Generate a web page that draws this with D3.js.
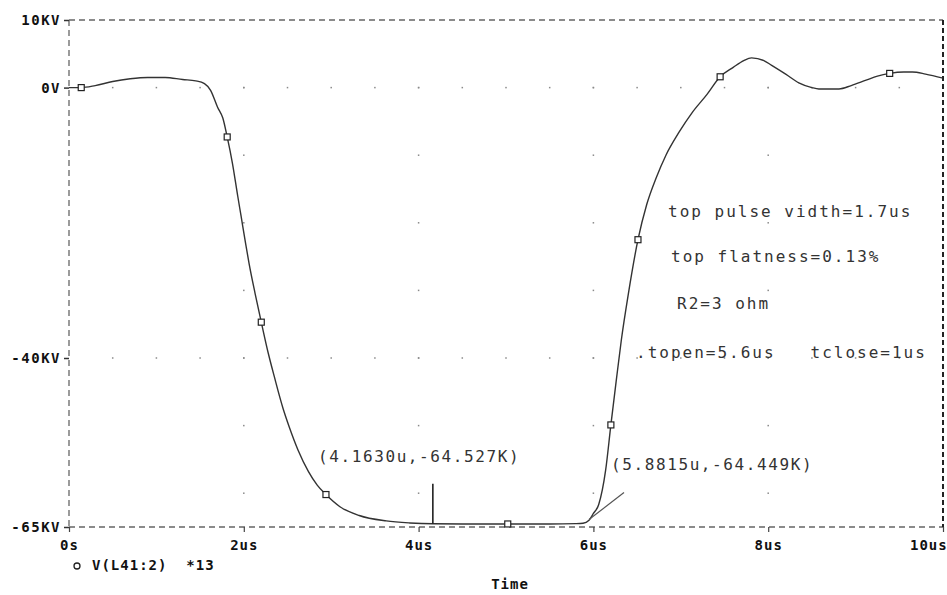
<!DOCTYPE html>
<html>
<head>
<meta charset="utf-8">
<script src="https://cdn.jsdelivr.net/npm/d3@7"></script>
<style>
  body { margin: 0; background: #fff; }
  text { font-family: "DejaVu Sans Mono", "Liberation Mono", monospace; }
</style>
</head>
<body>
<div id="plot"></div>
<script>
// waveform: time in us, voltage in KV
const timeUs = [0, 0.14, 0.3, 0.5, 0.7, 0.9, 1.1, 1.3, 1.45, 1.55, 1.62, 1.7, 1.76, 1.81, 1.87, 1.93,
  1.97, 2.02, 2.06, 2.13, 2.2, 2.28, 2.35, 2.45, 2.52, 2.62, 2.74, 2.84, 2.94, 3.1, 3.32, 3.63,
  3.9, 4.163, 4.5, 5.02, 5.5, 5.8, 5.8815, 5.95, 6.0, 6.06, 6.14, 6.2, 6.26, 6.32, 6.4, 6.51,
  6.61, 6.72, 6.83, 6.98, 7.13, 7.3, 7.45, 7.6, 7.72, 7.81, 7.95, 8.04, 8.2, 8.35, 8.5, 8.58,
  8.81, 8.95, 9.12, 9.25, 9.39, 9.55, 9.65, 9.8, 10.0];
const voltsKV = [0, 0, 0.3, 0.9, 1.3, 1.5, 1.5, 1.2, 1.0, 0.6, -0.4, -2.9, -4.5, -7.3, -11.2, -16.0,
  -19.1, -23.0, -26.0, -30.5, -34.7, -39.3, -42.8, -47.5, -50.2, -53.6, -56.8, -58.8, -60.2, -62.0, -63.3, -64.1,
  -64.4, -64.527, -64.55, -64.55, -64.55, -64.5, -64.449, -64.0, -63.0, -61.7, -56.6, -49.9, -43.5, -37.3, -30.5, -22.5,
  -17.3, -13.3, -10.0, -6.6, -3.7, -1.0, 1.6, 3.0, 4.0, 4.4, 4.0, 3.3, 2.0, 0.7, 0.0, -0.2,
  -0.2, 0.3, 1.1, 1.7, 2.1, 2.3, 2.3, 2.0, 1.4];

// symbol markers along the trace
const markerTimes = [0.14, 1.81, 2.2, 2.94, 5.02, 6.2, 6.51, 7.45, 9.39];
const markerVolts = [0, -7.3, -34.7, -60.2, -64.55, -49.9, -22.5, 1.6, 2.1];

// axis ticks
const xTicks = [0, 2, 4, 6, 8, 10];
const xTickLabels = ["0s", "2us", "4us", "6us", "8us", "10us"];
const yTicks = [10, 0, -40, -65];
const yTickLabels = ["10KV", "0V", "-40KV", "-65KV"];

// dotted grid
const gridRowsKV = [0, -40];
const gridColsUs = [2, 4, 6, 8];

// cursors
const cursorTimes = [4.163, 5.8815];
const cursorVolts = [-64.527, -64.449];
const cursorLabels = ["(4.1630u,-64.527K)", "(5.8815u,-64.449K)"];

const notes = ["top pulse vidth=1.7us", "top flatness=0.13%", "R2=3 ohm", ".topen=5.6us   tclose=1us"];

const W = 947, H = 595;
const x = d3.scaleLinear().domain([0, 10]).range([69, 943]);
const y = d3.scaleLinear().domain([-65, 10]).range([527, 20]);

const svg = d3.select("#plot").append("svg").attr("width", W).attr("height", H);

// grid dots
const dots = [];
gridRowsKV.forEach(v => d3.range(1, 20).forEach(k => dots.push([k * 0.5, v])));
gridColsUs.forEach(t => d3.range(0, 7).forEach(k => dots.push([t, -10 * k])));
svg.selectAll(".dot").data(dots).enter().append("rect")
  .attr("x", d => x(d[0]) - 0.75).attr("y", d => y(d[1]) - 0.75)
  .attr("width", 1.5).attr("height", 1.5).attr("fill", "#8a8a8a");

// frame
const frame = svg.append("g").attr("fill", "none").attr("stroke", "#666").attr("stroke-width", 1.3)
  .attr("stroke-dasharray", "6,4");
frame.append("line").attr("x1", x(0)).attr("x2", x(10)).attr("y1", y(10)).attr("y2", y(10));
frame.append("line").attr("x1", x(0)).attr("x2", x(10)).attr("y1", y(-65)).attr("y2", y(-65));
frame.append("line").attr("x1", x(0)).attr("x2", x(0)).attr("y1", y(10)).attr("y2", y(-65));
frame.append("line").attr("x1", x(10)).attr("x2", x(10)).attr("y1", y(10)).attr("y2", y(-65))
  .attr("stroke", "#222").attr("stroke-width", 2).attr("stroke-dasharray", "5,3");

// axes
const yAxis = svg.append("g").attr("transform", `translate(${x(0)},0)`)
  .call(d3.axisLeft(y).tickValues(yTicks).tickSize(5).tickPadding(3)
    .tickFormat((d, i) => yTickLabels[i]));
yAxis.select(".domain").remove();
yAxis.selectAll("line").attr("stroke", "#333").attr("stroke-width", 1.5);
yAxis.selectAll("text").attr("font-size", 14).attr("font-weight", "bold")
  .attr("letter-spacing", "1.5px").attr("fill", "#111")
  .style("font-family", "'DejaVu Sans Mono', monospace");

const xAxis = svg.append("g").attr("transform", `translate(0,${y(-65)})`)
  .call(d3.axisBottom(x).tickValues(xTicks).tickSize(5).tickPadding(8)
    .tickFormat((d, i) => xTickLabels[i]));
xAxis.select(".domain").remove();
xAxis.selectAll("line").attr("stroke", "#444").attr("stroke-width", 1.2);
xAxis.selectAll("text").attr("font-size", 14).attr("font-weight", "bold")
  .attr("letter-spacing", "1px").attr("fill", "#111")
  .style("font-family", "'DejaVu Sans Mono', monospace");
xAxis.selectAll(".tick").filter(d => d === 10).select("text").attr("text-anchor", "end").attr("dx", "0.3em");

// trace
const pts = timeUs.map((t, i) => [t, voltsKV[i]]);
svg.append("path").datum(pts)
  .attr("d", d3.line().x(d => x(d[0])).y(d => y(d[1])).curve(d3.curveMonotoneX))
  .attr("fill", "none").attr("stroke", "#333").attr("stroke-width", 1.4);

svg.selectAll(".mk").data(markerTimes).enter().append("rect")
  .attr("x", d => x(d) - 3).attr("y", (d, i) => y(markerVolts[i]) - 3)
  .attr("width", 6).attr("height", 6)
  .attr("fill", "#fff").attr("stroke", "#222").attr("stroke-width", 1.2);

// cursor marks
svg.append("line")
  .attr("x1", x(cursorTimes[0])).attr("x2", x(cursorTimes[0]))
  .attr("y1", y(cursorVolts[0])).attr("y2", y(-58.6))
  .attr("stroke", "#222").attr("stroke-width", 1.6);
svg.append("line")
  .attr("x1", x(5.95)).attr("x2", x(6.35))
  .attr("y1", y(-63.9)).attr("y2", y(-59.9))
  .attr("stroke", "#555").attr("stroke-width", 1.2);

const noteStyle = sel => sel.attr("font-size", 16).attr("letter-spacing", "2px")
  .attr("fill", "#333").attr("dominant-baseline", "middle");

svg.append("text").attr("x", 318).attr("y", 457).text(cursorLabels[0]).call(noteStyle)
  .attr("letter-spacing", "1.6px");
svg.append("text").attr("x", 611).attr("y", 465).text(cursorLabels[1]).call(noteStyle)
  .attr("letter-spacing", "1.6px");

const noteX = [668, 671, 677, 636];
const noteY = [212, 257, 304, 353];
svg.selectAll(".note").data(notes).enter().append("text")
  .attr("x", (d, i) => noteX[i]).attr("y", (d, i) => noteY[i])
  .attr("xml:space", "preserve").style("white-space", "pre")
  .text(d => d).call(noteStyle);

// legend and axis title
svg.append("circle").attr("cx", 77).attr("cy", 566).attr("r", 3)
  .attr("fill", "none").attr("stroke", "#222").attr("stroke-width", 1.3);
svg.append("text").attr("x", 92).attr("y", 566).attr("dominant-baseline", "middle")
  .attr("font-size", 14).attr("font-weight", "bold").attr("letter-spacing", "1px")
  .attr("fill", "#111").attr("xml:space", "preserve").style("white-space", "pre")
  .text("V(L41:2)  *13");
svg.append("text").attr("x", 510).attr("y", 585).attr("text-anchor", "middle")
  .attr("dominant-baseline", "middle").attr("font-size", 14).attr("font-weight", "bold")
  .attr("letter-spacing", "1px").attr("fill", "#111").text("Time");
</script>
</body>
</html>
